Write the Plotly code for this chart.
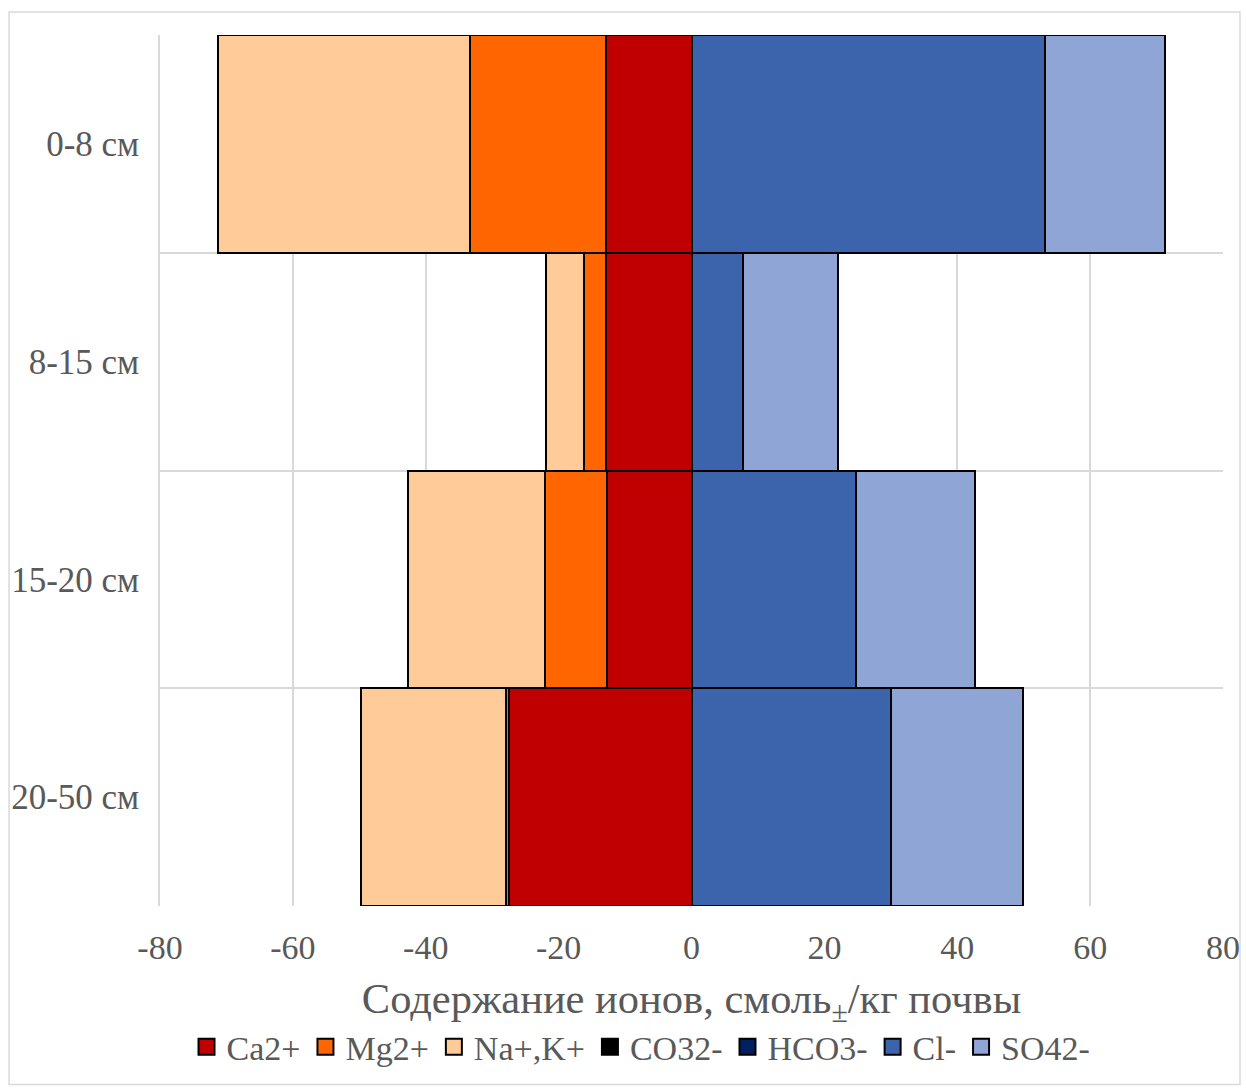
import plotly.graph_objects as go

# Soil depth layers (top to bottom)
layers = ["0-8 см", "8-15 см", "15-20 см", "20-50 см"]

# Cations (plotted to the left, cmol/kg)
ca = [12.8, 12.9, 12.7, 27.4]
mg = [20.6, 3.3, 9.4, 0.5]
na_k = [37.9, 5.7, 20.6, 21.8]

# Anions (plotted to the right, cmol/kg)
co3 = [0, 0, 0, 0]
hco3 = [0, 0, 0, 0]
cl = [53.2, 7.7, 24.8, 30.0]
so4 = [18.0, 14.3, 17.8, 19.9]

x_ticks = [-80, -60, -40, -20, 0, 20, 40, 60, 80]
x_tick_labels = [str(v) for v in x_ticks]

series = [
    ("Ca2+", [-v for v in ca], "#C00000"),
    ("Mg2+", [-v for v in mg], "#FF6600"),
    ("Na+,K+", [-v for v in na_k], "#FFCC99"),
    ("CO32-", co3, "#000000"),
    ("HCO3-", hco3, "#002060"),
    ("Cl-", cl, "#3C64AD"),
    ("SO42-", so4, "#8FA5D5"),
]

ypos = list(range(len(layers)))

fig = go.Figure()
for name, vals, color in series:
    fig.add_trace(go.Bar(
        y=ypos, x=vals, name=name, orientation="h", width=1,
        marker=dict(color=color, line=dict(color="#000000", width=2)),
        showlegend=False, legendgroup=name,
    ))
# Legend entries with larger outlined square swatches
for name, vals, color in series:
    fig.add_trace(go.Scatter(
        x=[None], y=[None], mode="markers", name=name, legendgroup=name,
        marker=dict(symbol="square", size=16, color=color,
                    line=dict(color="#000000", width=2)),
    ))

FONT = "Liberation Serif, Times New Roman, serif"
GRAY = "#595959"
GRID = "#D9D9D9"

fig.update_layout(
    width=1246, height=1090,
    margin=dict(l=160, r=23, t=35, b=184),
    paper_bgcolor="white", plot_bgcolor="white",
    barmode="relative", bargap=0,
    font=dict(family=FONT, color=GRAY, size=34),
    showlegend=True,
    legend=dict(
        orientation="h", x=0.4525, xanchor="center", y=-0.162, yanchor="middle",
        font=dict(size=34, color=GRAY), itemwidth=30, traceorder="normal",
        itemsizing="trace", bgcolor="rgba(0,0,0,0)",
    ),
    xaxis=dict(
        range=[x_ticks[0], x_ticks[-1]], tickmode="array",
        tickvals=x_ticks, ticktext=x_tick_labels, automargin=False,
        showgrid=True, gridcolor=GRID, gridwidth=1.5,
        zeroline=False, showline=False, ticks="",
        tickfont=dict(size=34, color=GRAY), ticklabelstandoff=18,
        title=dict(text="Содержание ионов, смоль<sub>±</sub>/кг почвы",
                   font=dict(size=42.5, color=GRAY), standoff=18),
    ),
    yaxis=dict(
        range=[len(layers) - 0.5, -0.5], tickmode="array", automargin=False,
        tickvals=ypos, ticktext=layers, showgrid=False,
        zeroline=False, showline=True, linecolor=GRID, linewidth=1.5,
        ticks="", tickfont=dict(size=35, color=GRAY), ticklabelstandoff=12,
        minor=dict(tickmode="array",
                   tickvals=[i - 0.5 for i in range(len(layers) + 1)],
                   showgrid=True, gridcolor=GRID, gridwidth=1.5, ticks=""),
    ),
    shapes=[dict(
        type="rect", xref="paper", yref="paper",
        x0=-0.142, x1=1.016, y0=-0.205, y1=1.0264,
        line=dict(color="#D9D9D9", width=1.5), fillcolor="rgba(0,0,0,0)",
        layer="below",
    )],
)

fig.write_html("out.html")
